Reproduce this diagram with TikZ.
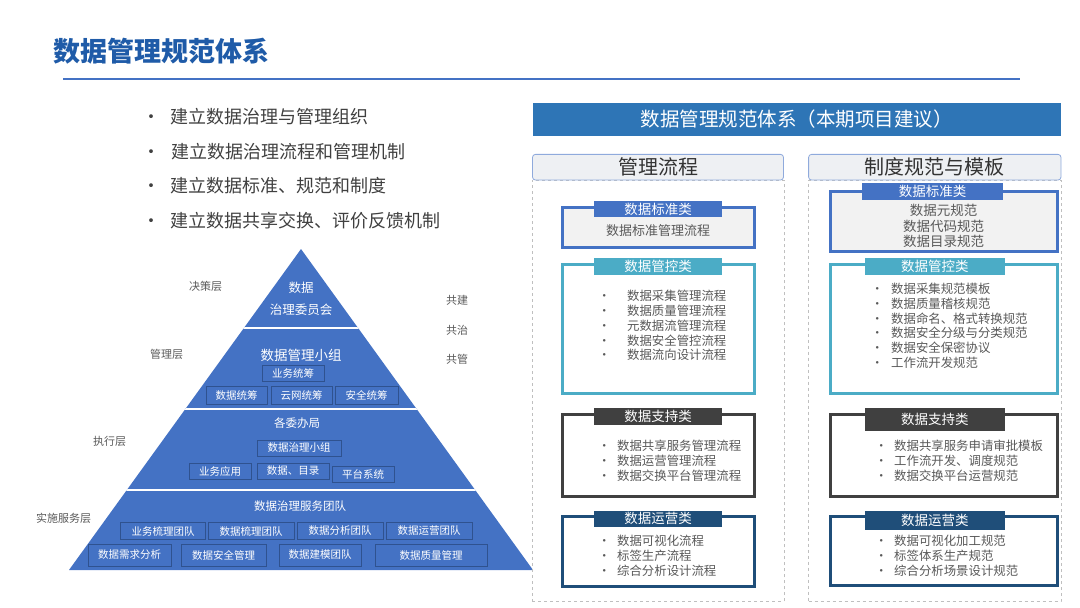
\documentclass[tikz,border=0pt]{standalone}
\usepackage{fontspec}
\setmainfont{Noto Sans CJK SC}

\definecolor{titleblue}{HTML}{1F5BA8}
\definecolor{lineblue}{HTML}{4472C4}
\definecolor{pyblue}{HTML}{4472C4}
\definecolor{pyedge}{HTML}{2F528F}
\definecolor{barblue}{HTML}{2E75B6}
\definecolor{headedge}{HTML}{8FAADC}
\definecolor{headfill}{HTML}{EEF0F3}
\definecolor{stdblue}{HTML}{4472C4}
\definecolor{ctlteal}{HTML}{4BACC6}
\definecolor{supgray}{HTML}{404040}
\definecolor{opsnavy}{HTML}{1F4E79}
\definecolor{txtgray}{HTML}{595959}
\definecolor{bodygray}{HTML}{404040}

\newcommand{\lstbul}[1]{\makebox[10pt][c]{•}\hspace{#1}}

\begin{document}
\begin{tikzpicture}[x=1pt, y=-1pt,
    pybox/.style={draw=pyedge, line width=0.8, fill=pyblue, text=white,
        inner sep=0, font=\fontsize{10.5}{12}\selectfont},
    pytext/.style={text=white, inner sep=0},
    sidelabel/.style={text=txtgray, inner sep=0, font=\fontsize{11}{13}\selectfont},
    bulletline/.style={anchor=west, text=bodygray, inner sep=0,
        font=\fontsize{18}{22}\selectfont},
    panelhead/.style={draw=headedge, line width=0.8, fill=headfill, rounded corners=3,
        text=black!80, inner sep=0, font=\fontsize{20}{24}\selectfont},
    panelframe/.style={draw=black!25, dashed, line width=0.7, inner sep=0},
    catbox/.style={draw=#1, line width=3, inner sep=0},
    cattag/.style={fill=#1, text=white, inner sep=0, font=\fontsize{13.5}{16}\selectfont},
    itemlist/.style={anchor=west, align=left, text=txtgray, inner sep=0,
        font=\fontsize{12.4}{14.8}\selectfont}]

    \useasboundingbox (0,0) rectangle (1080,608);

    % ==== TITLE ====
    \node[anchor=west, inner sep=0, text=titleblue, font=\fontsize{27}{32}\selectfont\bfseries]
        (title) at (53,51) {数据管理规范体系};
    \draw[lineblue, line width=2] (63,79) -- (1020,79);

    % ==== GOALS ====
    \node[bulletline] (goal1) at (142,116.5) {\makebox[28pt][l]{•}建立数据治理与管理组织};
    \node[bulletline] (goal2) at (142,152) {\makebox[29pt][l]{•}建立数据治理流程和管理机制};
    \node[bulletline] (goal3) at (142,186) {\makebox[28pt][l]{•}建立数据标准、规范和制度};
    \node[bulletline] (goal4) at (142,220.5) {\makebox[28pt][l]{•}建立数据共享交换、评价反馈机制};

    % ==== PYRAMID ====
    \fill[pyblue] (301,249) -- (533,570) -- (69,570) -- cycle;
    \begin{scope}
        \clip (301,249) -- (533,570) -- (69,570) -- cycle;
        \draw[white, line width=2] (60,328) -- (540,328);
        \draw[white, line width=2] (60,409) -- (540,409);
        \draw[white, line width=2] (60,490) -- (540,490);
    \end{scope}

    % ==== DECISION LAYER ====
    \node[pytext, align=center, font=\fontsize{12.5}{22}\selectfont] (council) at (301,299)
        {数据\\治理委员会};

    % ==== MANAGEMENT LAYER ====
    \node[pytext, font=\fontsize{13.5}{16}\selectfont] (mgmt) at (301,355) {数据管理小组};
    \node[pybox, minimum width=62, minimum height=16.7] (bizplan) at (293,373.3) {业务统筹};
    \node[pybox, minimum width=61, minimum height=17.3] (dataplan) at (236.5,395.3) {数据统筹};
    \node[pybox, minimum width=61, minimum height=17.3] (netplan) at (301.5,395.3) {云网统筹};
    \node[pybox, minimum width=63, minimum height=17.3] (secplan) at (366.5,395.3) {安全统筹};

    % ==== EXECUTION LAYER ====
    \node[pytext, font=\fontsize{11.5}{14}\selectfont] (bureau) at (297,423) {各委办局};
    \node[pybox, minimum width=84, minimum height=16] (govteam) at (299,448) {数据治理小组};
    \node[pybox, minimum width=62, minimum height=16] (bizapp) at (220,471) {业务应用};
    \node[pybox, minimum width=72, minimum height=16] (catalog) at (293,471) {数据、目录};
    \node[pybox, minimum width=62, minimum height=16] (platform) at (363,474) {平台系统};

    % ==== SERVICE LAYER ====
    \node[pytext, font=\fontsize{11.5}{14}\selectfont] (service) at (300,506) {数据治理服务团队};
    \node[pybox, minimum width=85, minimum height=16.6] (bizsort) at (163,531) {业务梳理团队};
    \node[pybox, minimum width=86, minimum height=16.6] (datasort) at (251,531) {数据梳理团队};
    \node[pybox, minimum width=86, minimum height=16.6] (analysis) at (340,531) {数据分析团队};
    \node[pybox, minimum width=86, minimum height=16.6] (operation) at (429,531) {数据运营团队};
    \node[pybox, minimum width=83.5, minimum height=22] (demand) at (129.7,555) {数据需求分析};
    \node[pybox, minimum width=84.5, minimum height=22] (security) at (223.7,555) {数据安全管理};
    \node[pybox, minimum width=82, minimum height=22] (modeling) at (320,555) {数据建模团队};
    \node[pybox, minimum width=112, minimum height=22] (quality) at (431,555) {数据质量管理};

    % ==== LAYER LABELS ====
    \node[sidelabel] (lydecide) at (205.5,286.7) {决策层};
    \node[sidelabel] (lymanage) at (166.5,354) {管理层};
    \node[sidelabel] (lyexec) at (109.5,441.7) {执行层};
    \node[sidelabel] (lyservice) at (63.5,518.7) {实施服务层};
    \node[sidelabel] (cobuild) at (457,300.7) {共建};
    \node[sidelabel] (cogovern) at (457,330) {共治};
    \node[sidelabel] (comanage) at (457,359) {共管};

    % ==== RIGHT HEADER ====
    \node[fill=barblue, text=white, inner sep=0, minimum width=528.5, minimum height=32.4,
        font=\fontsize{19.5}{23}\selectfont] (system) at (796.75,119.5)
        {数据管理规范体系（本期项目建议）};

    % ==== PANELS ====
    \node[panelframe, minimum width=251.5, minimum height=421.7] (lpanel) at (658.2,390.9) {};
    \node[panelframe, minimum width=252.4, minimum height=421.7] (rpanel) at (934.8,390.9) {};
    \node[panelhead, minimum width=251, minimum height=25.7] (lhead) at (658,167.2) {管理流程};
    \node[panelhead, minimum width=252.4, minimum height=25.7] (rhead) at (934.8,167.2) {制度规范与模板};

    % ==== PROCESS: STANDARD ====
    \node[catbox=stdblue, fill=black!5, minimum width=192, minimum height=40] (pstd) at (658,227.3) {};
    \node[cattag=stdblue, minimum width=128, minimum height=16.3] (pstdtag) at (658,209.2) {数据标准类};
    \node[text=txtgray, inner sep=0, font=\fontsize{13}{15}\selectfont] (pstdtxt) at (658,231) {数据标准管理流程};

    % ==== PROCESS: CONTROL ====
    \node[catbox=ctlteal, fill=white, minimum width=192, minimum height=129.3] (pctl) at (658,328.7) {};
    \node[cattag=ctlteal, minimum width=128, minimum height=16.7] (pctltag) at (658,266.7) {数据管控类};
    \node[itemlist] (pctltxt) at (599,325.5) {\lstbul{18pt}数据采集管理流程\\ \lstbul{18pt}数据质量管理流程\\
        \lstbul{18pt}元数据流管理流程\\ \lstbul{18pt}数据安全管控流程\\ \lstbul{18pt}数据流向设计流程};

    % ==== PROCESS: SUPPORT ====
    \node[catbox=supgray, fill=white, minimum width=192, minimum height=81.7] (psup) at (658,455.8) {};
    \node[cattag=supgray, minimum width=128, minimum height=16.7] (psuptag) at (658,416.7) {数据支持类};
    \node[itemlist] (psuptxt) at (599,460.6) {\lstbul{8pt}数据共享服务管理流程\\ \lstbul{8pt}数据运营管理流程\\
        \lstbul{8pt}数据交换平台管理流程};

    % ==== PROCESS: OPERATION ====
    \node[catbox=opsnavy, fill=white, minimum width=192, minimum height=70] (pops) at (658,551.7) {};
    \node[cattag=opsnavy, minimum width=128, minimum height=16] (popstag) at (658,518.7) {数据运营类};
    \node[itemlist] (popstxt) at (599,556) {\lstbul{8pt}数据可视化流程\\ \lstbul{8pt}标签生产流程\\
        \lstbul{8pt}综合分析设计流程};

    % ==== RULES: STANDARD ====
    \node[catbox=stdblue, fill=black!5, minimum width=227, minimum height=60] (rstd) at (943.5,221.7) {};
    \node[cattag=stdblue, minimum width=141, minimum height=16.7] (rstdtag) at (932.5,191.7) {数据标准类};
    \node[align=center, text=txtgray, inner sep=0, font=\fontsize{13.5}{15.8}\selectfont] (rstdtxt)
        at (943.5,226) {数据元规范\\数据代码规范\\数据目录规范};

    % ==== RULES: CONTROL ====
    \node[catbox=ctlteal, fill=white, minimum width=227, minimum height=129.3] (rctl) at (943.5,328.7) {};
    \node[cattag=ctlteal, minimum width=140.4, minimum height=16.7] (rctltag) at (934.8,266.7) {数据管控类};
    \node[itemlist, font=\fontsize{12.4}{14.7}\selectfont] (rctltxt) at (872,325.8)
        {\lstbul{9pt}数据采集规范模板\\ \lstbul{9pt}数据质量稽核规范\\ \lstbul{9pt}数据命名、格式转换规范\\
        \lstbul{9pt}数据安全分级与分类规范\\ \lstbul{9pt}数据安全保密协议\\ \lstbul{9pt}工作流开发规范};

    % ==== RULES: SUPPORT ====
    \node[catbox=supgray, fill=white, minimum width=227, minimum height=81.7] (rsup) at (943.5,455.8) {};
    \node[cattag=supgray, minimum width=140.4, minimum height=22.7] (rsuptag) at (934.8,419.3) {数据支持类};
    \node[itemlist] (rsuptxt) at (876,460.6) {\lstbul{8pt}数据共享服务申请审批模板\\ \lstbul{8pt}工作流开发、调度规范\\
        \lstbul{8pt}数据交换平台运营规范};

    % ==== RULES: OPERATION ====
    \node[catbox=opsnavy, fill=white, minimum width=227, minimum height=69] (rops) at (943.5,551.2) {};
    \node[cattag=opsnavy, minimum width=140.4, minimum height=19.3] (ropstag) at (934.8,520.3) {数据运营类};
    \node[itemlist] (ropstxt) at (876,556) {\lstbul{8pt}数据可视化加工规范\\ \lstbul{8pt}标签体系生产规范\\
        \lstbul{8pt}综合分析场景设计规范};
\end{tikzpicture}
\end{document}
